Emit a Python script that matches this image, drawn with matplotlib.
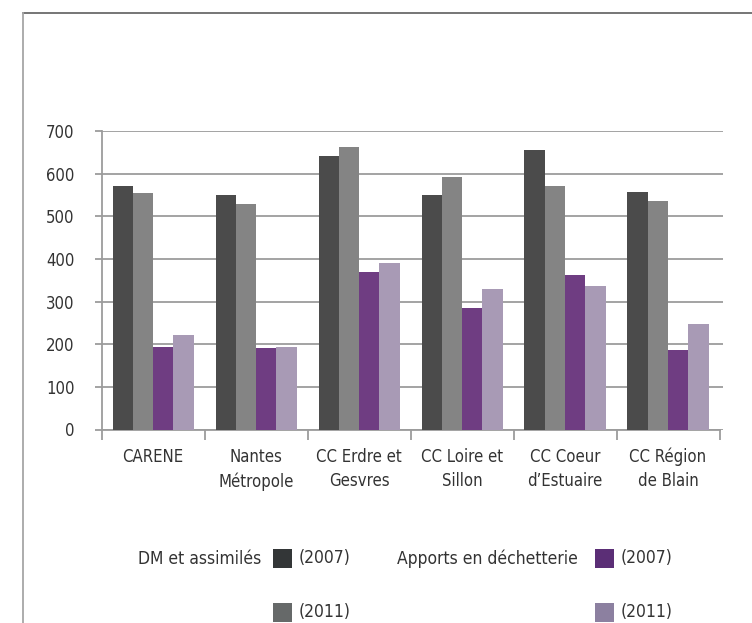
import matplotlib

matplotlib.use("Agg")
import matplotlib.pyplot as plt
from matplotlib.lines import Line2D
from matplotlib.patches import Rectangle
import numpy as np

plt.rcParams["font.family"] = ["DejaVu Sans"]
plt.rcParams["font.stretch"] = "condensed"

# --- data ---
categories = ["CARENE", "Nantes\nMétropole", "CC Erdre et\nGesvres",
              "CC Loire et\nSillon", "CC Coeur\nd\u2019Estuaire", "CC Région\nde Blain"]
dm_2007 = [571, 550, 642, 550, 655, 557]
dm_2011 = [554, 529, 662, 592, 571, 536]
dechet_2007 = [193, 191, 369, 285, 362, 186]
dechet_2011 = [221, 193, 390, 329, 336, 247]
yticks = [0, 100, 200, 300, 400, 500, 600, 700]

series = [dm_2007, dm_2011, dechet_2007, dechet_2011]
bar_colors = ["#4b4b4b", "#848484", "#6f3d82", "#a89ab5"]
legend_colors = ["#333637", "#666969", "#5b2e76", "#8c80a0"]
text_color = "#333333"
fs = 12

W, H = 752, 623
fig = plt.figure(figsize=(W / 100, H / 100), dpi=100)

# outer frame of the original graphic
fig.add_artist(Line2D([23 / W, 1], [1 - 13 / H] * 2, color="#6a6a6a", lw=1.3))
fig.add_artist(Line2D([23 / W] * 2, [0, 1 - 13 / H], color="#a6a6a6", lw=1.3))

ax = fig.add_axes([101.7 / W, 1 - 429.5 / H, (723 - 101.7) / W, (429.5 - 131) / H])

x = np.arange(len(categories))
width = 0.197
for k, (vals, col) in enumerate(zip(series, bar_colors)):
    ax.bar(x + (k - 1.5) * width, vals, width, color=col, zorder=3)

ax.set_xlim(-0.5, 5.5 + 3.5 / 103)
ax.set_ylim(0, 700)
ax.set_yticks(yticks)
ax.yaxis.grid(True, color="#9c9c9c", lw=1.3, zorder=0)
ax.tick_params(axis="y", length=5, width=1.3, color="#9c9c9c", pad=14.5,
               labelsize=fs, labelcolor=text_color)

ax.set_xticks(x)
ax.set_xticklabels(categories, fontsize=fs, color=text_color, linespacing=1.45)
ax.set_xticks(np.arange(-0.5, 6.0, 1.0), minor=True)
ax.tick_params(axis="x", which="major", length=0, pad=13)
ax.tick_params(axis="x", which="minor", length=7, width=1.3, color="#9c9c9c")

for s in ("top", "right"):
    ax.spines[s].set_visible(False)
for s in ("left", "bottom"):
    ax.spines[s].set_color("#9c9c9c")
    ax.spines[s].set_linewidth(1.3)
ax.spines["bottom"].set_bounds(-0.5, 5.5)

# legend drawn by hand, laid out as in the reference
def legend_item(label, sq_x, sq_y, color):
    fig.add_artist(Rectangle((sq_x / W, 1 - (sq_y + 9.5) / H), 19 / W, 19 / H,
                             transform=fig.transFigure, color=color, lw=0))
    fig.text((sq_x + 26) / W, 1 - sq_y / H, label, ha="left", va="center",
             fontsize=fs + 0.5, color=text_color)

fig.text(261 / W, 1 - 559 / H, "DM et assimilés", ha="right", va="center",
         fontsize=fs + 0.5, color=text_color)
fig.text(578 / W, 1 - 559 / H, "Apports en déchetterie", ha="right", va="center",
         fontsize=fs + 0.5, color=text_color)
legend_item("(2007)", 273, 558, legend_colors[0])
legend_item("(2011)", 273, 612, legend_colors[1])
legend_item("(2007)", 595, 558, legend_colors[2])
legend_item("(2011)", 595, 612, legend_colors[3])

fig.savefig("out.png", dpi=100)
